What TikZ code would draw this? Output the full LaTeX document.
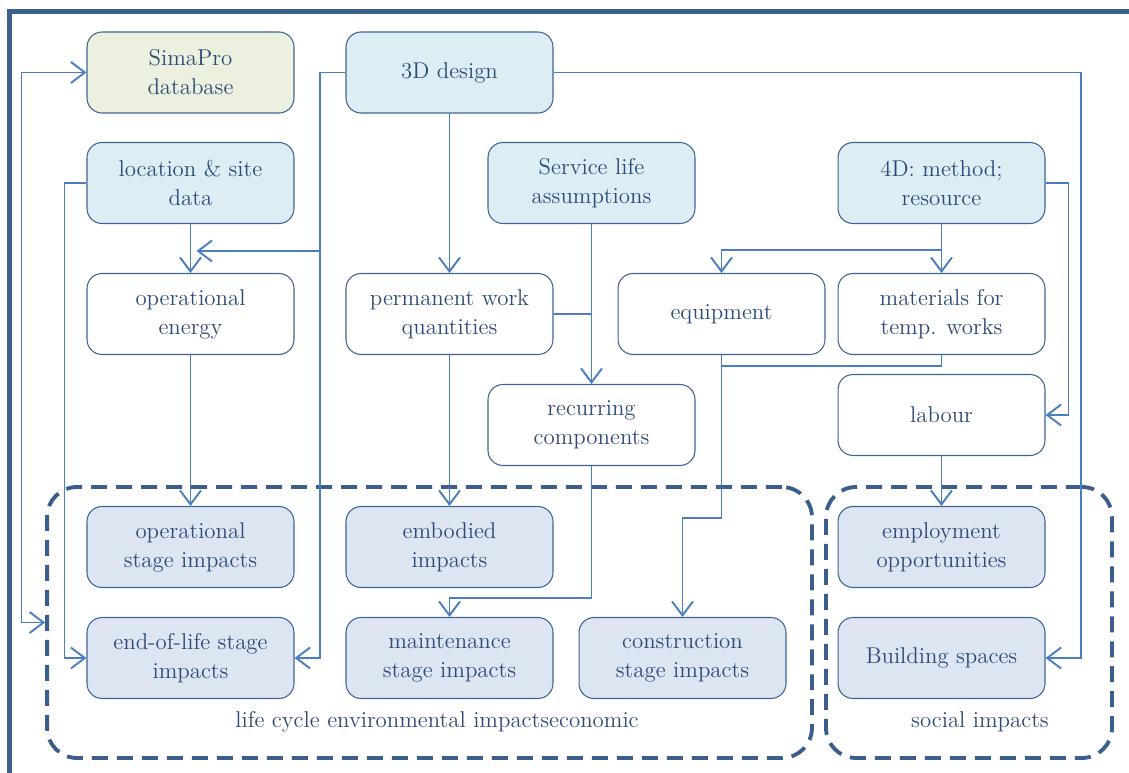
\documentclass[tikz,border=0pt]{standalone}
\usetikzlibrary{arrows.meta}
\definecolor{txt}{HTML}{2C4A78}
\definecolor{bord}{HTML}{3E6496}
\definecolor{conncol}{HTML}{4A7EC2}
\definecolor{framecol}{HTML}{3B5E8C}
\definecolor{fillG}{HTML}{EBF0DF}
\definecolor{fillA}{HTML}{DCEDF3}
\definecolor{fillB}{HTML}{DCE5F1}
\tikzset{
  box/.style={draw=bord, line width=0.6pt, rounded corners=0.3cm, minimum width=4.14cm, minimum height=1.62cm, inner sep=0pt, align=center, text=txt, font=\fontsize{13}{16.5}\selectfont},
  inbox/.style={box, fill=fillA},
  dbbox/.style={box, fill=fillG},
  outbox/.style={box, fill=fillB},
  wbox/.style={box, fill=white},
  grp/.style={draw=framecol, line width=2.2pt, dash pattern=on 0.32cm off 0.18cm, rounded corners=0.6cm, inner sep=0pt},
  grplabel/.style={text=txt, font=\fontsize{13}{16}\selectfont, inner sep=0pt},
  conn/.style={draw=conncol, line width=1.1pt, -{Straight Barb[length=0.28cm,width=0.42cm]}},
  plain/.style={draw=conncol, line width=1.1pt},
}
\begin{document}
\begin{tikzpicture}[x=0.02cm,y=-0.02cm]
\useasboundingbox (0,0) rectangle (1129,773);
% outer frame
\draw[framecol, line width=3pt] (1140,11.5) -- (9.5,11.5) -- (9.5,790);
% groups
\node[grp, minimum width=15.3cm, minimum height=5.42cm] (lc) at (429.5,622.5) {};
\node[grp, minimum width=5.72cm, minimum height=5.42cm] (soc) at (969,622.5) {};
\node[grplabel] (lcl) at (437,722) {life cycle environmental impactseconomic};
\node[grplabel] (socl) at (980,722) {social impacts};
% input boxes
\node[dbbox] (sim) at (190.5,72.5) {SimaPro\\database};
\node[inbox] (d3) at (449.5,72.5) {3D design};
\node[inbox] (loc) at (190.5,183) {location \& site\\data};
\node[inbox] (sl) at (591.5,183) {Service life\\assumptions};
\node[inbox] (d4) at (941.5,183) {4D: method;\\resource};
% intermediate
\node[wbox] (opE) at (190.5,314) {operational\\energy};
\node[wbox] (pw) at (449.5,314) {permanent work\\quantities};
\node[wbox] (eq) at (721.5,314) {equipment};
\node[wbox] (mat) at (941.5,314) {materials for\\temp. works};
\node[wbox] (rc) at (591.5,425) {recurring\\components};
\node[wbox] (lab) at (941.5,415) {labour};
% outputs
\node[outbox] (ops) at (190.5,547) {operational\\stage impacts};
\node[outbox] (emb) at (449.5,547) {embodied\\impacts};
\node[outbox] (emp) at (941.5,547) {employment\\opportunities};
\node[outbox] (eol) at (190.5,658) {end-of-life stage\\impacts};
\node[outbox] (mt) at (449.5,658) {maintenance\\stage impacts};
\node[outbox] (con) at (682.5,658) {construction\\stage impacts};
\node[outbox] (bs) at (941.5,658) {Building spaces};
% junction coordinates
\coordinate (jd) at (320,72.5);
\coordinate (jb) at (320,251);
\coordinate (jr) at (1081,72.5);
\coordinate (j4) at (941.5,250);
\coordinate (jpw) at (591.5,314);
% connectors
\draw[conn] (d3.west) -- (jd) |- (eol.east);
\draw[conn] (jb) -- ([xshift=0.12cm]opE.north |- jb);
\draw[conn] (d3.south) -- (pw.north);
\draw[conn] (d3.east) -- (jr) |- (bs.east);
\draw[conn] (loc.west) -- ++(-22,0) |- (eol.west);
\draw[conn, {Straight Barb[length=0.28cm,width=0.42cm]}-{Straight Barb[length=0.28cm,width=0.42cm]}] (sim.west) -- ++(-65,0) |- (lc.west);
\draw[conn] (loc.south) -- (opE.north);
\draw[conn] (opE.south) -- (ops.north);
\draw[conn] (pw.south) -- (emb.north);
\draw[plain] (pw.east) -- (jpw);
\draw[conn] (sl.south) -- (rc.north);
\draw[conn] (rc.south) -- ++(0,132) -| (mt.north);
\draw[conn] (d4.south) -- (mat.north);
\draw[conn] (j4) -| (eq.north);
\draw[conn] (d4.east) -- ++(23,0) |- (lab.east);
\draw[plain] (mat.south) -- ++(0,11) -| (eq.south);
\draw[conn] (eq.south) -- ++(0,163) -| (con.north);
\draw[conn] (lab.south) -- (emp.north);
\end{tikzpicture}
\end{document}
